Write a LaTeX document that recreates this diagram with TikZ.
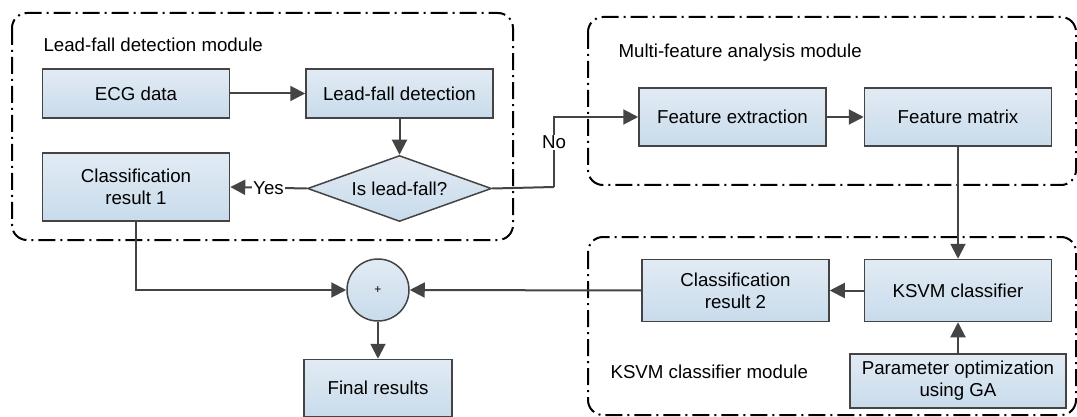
\documentclass[tikz,border=0pt]{standalone}
\usepackage{fontspec}
\setmainfont{Liberation Sans}
\usetikzlibrary{arrows.meta,calc,positioning,shapes.geometric}
\definecolor{boxtop}{HTML}{E2EBF4}
\definecolor{boxbot}{HTML}{C8DBEB}
\definecolor{edgec}{HTML}{444444}

\begin{document}
\begin{tikzpicture}[x=1pt,y=-1pt,>={Triangle[length=15pt,width=15pt]},font=\fontsize{18.7}{22}\selectfont]
	\tikzstyle{block} = [draw=edgec, line width=1.5pt, rectangle, top color=boxtop, bottom color=boxbot, minimum height=49pt, minimum width=187pt, align=center, inner sep=2pt]
	\tikzstyle{decision} = [draw=edgec, line width=1.5pt, diamond, top color=boxtop, bottom color=boxbot, minimum width=184pt, minimum height=66pt, aspect=2.8, inner sep=0pt]
	\tikzstyle{module} = [line width=2pt, rounded corners=15pt, dash pattern=on 17pt off 5pt on 2pt off 5pt]
	\tikzstyle{line} = [draw=edgec, line width=2pt]
	\tikzstyle{tag} = [fill=white, inner sep=1pt]
	\useasboundingbox (0,0) rectangle (1077,417);
	
	\draw[module] (12,13) rectangle (513,240);
	\draw[module] (588,17) rectangle (1076,185);
	\draw[module] (588,237) rectangle (1076,415);
	\node [anchor=west] (modlead) at (40,45) {Lead-fall detection module};
	\node [anchor=west] (modfeat) at (615,53) {Multi-feature analysis module};
	\node [anchor=west] (modksvm) at (607,372) {KSVM classifier module};
	
	\node [block] (ecg) at (136,93.5) {ECG data};
	\node [block, right = 75pt of ecg] (lfd) {Lead-fall detection};
	\node [decision, below = 36pt of lfd] (isfall) {Is lead-fall?};
	\node [block, minimum height=68pt] (res1) at (136,187) {Classification\\result 1};
	\coordinate (nobend) at (554,187);
	
	\node [block, minimum height=58pt] (fext) at (732.5,117) {Feature extraction};
	\node [block, minimum height=58pt, right = 37pt of fext] (fmat) {Feature matrix};
	\node [block, minimum height=62pt, below = 112pt of fmat] (ksvm) {KSVM classifier};
	\node [block, minimum height=62pt, left = 34pt of ksvm] (res2) {Classification\\result 2};
	\node [block, minimum height=54pt, minimum width=216pt, below = 31pt of ksvm] (gaopt) {Parameter optimization\\using GA};
	
	\node [draw=edgec, line width=1.5pt, circle, top color=boxtop, bottom color=boxbot, minimum size=62pt, inner sep=0pt, font=\fontsize{12}{14}\selectfont] (sum) at (378,290) {+};
	\node [block, minimum height=57pt, minimum width=148pt, below = 37pt of sum] (final) {Final results};
	
	\draw [line,->] (ecg) -- (lfd);
	\draw [line,->] (lfd) -- (isfall);
	\draw [line,->] (isfall.west) -- node[tag]{Yes} (res1.east);
	\draw [line] (isfall.east) -- (nobend);
	\draw [line,->] (nobend) |- node[tag, pos=0.32]{No} (fext.west);
	\draw [line,->] (fext) -- (fmat);
	\draw [line,->] (fmat) -- (ksvm);
	\draw [line,->] (ksvm) -- (res2);
	\draw [line,->] (gaopt) -- (ksvm);
	\draw [line,->] (res1.south) |- (sum.west);
	\draw [line,->] (res2.west) -- (sum.east);
	\draw [line,->] (sum) -- (final);
	
\end{tikzpicture}
\end{document}
